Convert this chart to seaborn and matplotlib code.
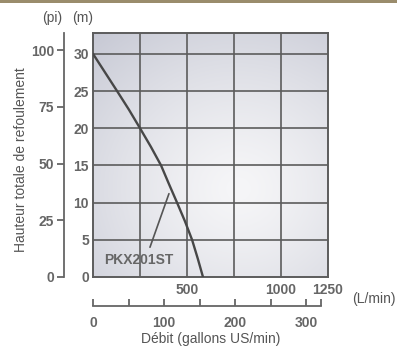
import numpy as np
import pandas as pd
import matplotlib
matplotlib.use("Agg")
import matplotlib.pyplot as plt
import seaborn as sns
from matplotlib.patches import Rectangle
from matplotlib.ticker import FixedLocator

# ---- data ----
flow_lpm = [0, 64, 128, 191, 250, 308, 362, 404, 447, 489, 527, 557, 585]
head_m = [30, 27.5, 25, 22.5, 20, 17.5, 15, 12.5, 10, 7.5, 5, 2.5, 0]
model_name = "PKX201ST"
m_ticks = [0, 5, 10, 15, 20, 25, 30]
ft_ticks = [0, 25, 50, 75, 100]
lpm_grid = [250, 500, 750, 1000]
lpm_labels = {500: "500", 1000: "1000", 1250: "1250"}
gpm_ticks = [0, 50, 100, 150, 200, 250, 300]
gpm_labels = [0, 100, 200, 300]
gpm_end = 320

W, H = 397, 348
sns.set_theme(style="white")
plt.rcParams['font.family'] = ['Liberation Sans Narrow', 'Liberation Sans', 'DejaVu Sans']

fig = plt.figure(figsize=(W / 100, H / 100), dpi=100)
fig.patch.set_facecolor("white")

def px(x0, y0, x1, y1):
    return [x0 / W, 1 - y1 / H, (x1 - x0) / W, (y1 - y0) / H]

TXT = "#666666"
GRID = "#5c5c5c"

XMAX = 1250
YMAX = 32.8
ax = fig.add_axes(px(93, 33, 328, 277))
ax.set_xlim(0, XMAX)
ax.set_ylim(0, YMAX)

# background gradient
gx, gy = np.meshgrid(np.linspace(0, 1, 200), np.linspace(0, 1, 200))
d = np.sqrt(((gx - 0.62) / 1.0) ** 2 + ((gy - 0.36) / 0.9) ** 2)
t = np.clip((d / 0.95) ** 1.3, 0, 1)
light = np.array([0.965, 0.965, 0.972])
dark = np.array([0.776, 0.784, 0.83])
img = light[None, None, :] * (1 - t[..., None]) + dark[None, None, :] * t[..., None]
ax.imshow(img, extent=[0, XMAX, YMAX, 0], aspect="auto", zorder=0, origin="upper")

# grid
for v in lpm_grid:
    ax.axvline(v, color=GRID, lw=1.2, zorder=1)
for v in m_ticks[1:]:
    ax.axhline(v, color=GRID, lw=1.2, zorder=1)
for s in ax.spines.values():
    s.set_visible(True)
    s.set_color(GRID)
    s.set_linewidth(1.4)

df = pd.DataFrame({"flow": flow_lpm, "head": head_m})
sns.lineplot(data=df, x="flow", y="head", ax=ax, color="#474747", lw=1.7, zorder=3)
ax.set_xlabel("")
ax.set_ylabel("")

# x ticks (L/min)
xt = lpm_grid + [XMAX]
ax.set_xticks(xt)
ax.set_xticklabels([lpm_labels.get(v, "") for v in xt], color=TXT, fontsize=10, fontweight="bold")
ax.tick_params(axis="x", length=0, pad=4)
# y ticks (m)
ax.set_yticks(m_ticks)
ax.set_yticklabels([str(v) for v in m_ticks], color=TXT, fontsize=10, fontweight="bold")
ax.tick_params(axis="y", length=0, pad=3)

# model label + pointer
ax.text(245, 2.3, model_name, ha="center", va="center", color=TXT, fontsize=10,
        fontweight="bold", zorder=4)
ax.plot([303, 404], [4.0, 11.2], color="#555555", lw=1.2, zorder=4)

# feet axis
axf = fig.add_axes(px(64, 33, 65, 277))
axf.set_ylim(0, YMAX / 0.3048)
axf.set_xlim(0, 1)
axf.patch.set_alpha(0)
for k, s in axf.spines.items():
    s.set_visible(k == "left")
axf.spines["left"].set_color("#666666")
axf.spines["left"].set_linewidth(1.3)
axf.set_xticks([])
axf.set_yticks(ft_ticks)
axf.set_yticklabels([str(v) for v in ft_ticks], color=TXT, fontsize=10, fontweight="bold")
axf.tick_params(axis="y", direction="out", length=5, width=1.3, color="#666666", pad=2, left=True)

# gallons axis
axg = fig.add_axes(px(93, 300, 328, 306))
axg.set_xlim(0, XMAX / 3.78541)
axg.set_ylim(0, 1)
axg.patch.set_alpha(0)
for k, s in axg.spines.items():
    s.set_visible(k == "bottom")
axg.spines["bottom"].set_bounds(0, gpm_end)
axg.spines["bottom"].set_color("#666666")
axg.spines["bottom"].set_linewidth(1.3)
axg.set_yticks([])
axg.xaxis.set_major_locator(FixedLocator(gpm_ticks + [gpm_end]))
axg.set_xticklabels([str(v) if v in gpm_labels else "" for v in gpm_ticks + [gpm_end]],
                    color=TXT, fontsize=10, fontweight="bold")
axg.tick_params(axis="x", direction="in", length=5, width=1.3, color="#666666", pad=7, bottom=True)

# texts
fig.text(52 / W, 1 - 18 / H, "(pi)", ha="center", va="center", color="#555555", fontsize=10)
fig.text(83 / W, 1 - 18 / H, "(m)", ha="center", va="center", color="#555555", fontsize=10)
fig.text(21 / W, 1 - 160 / H, "Hauteur totale de refoulement", rotation=90,
         ha="center", va="center", color="#555555", fontsize=10)
fig.text(352 / W, 1 - 299 / H, "(L/min)", ha="left", va="center", color="#555555", fontsize=10)
fig.text(211 / W, 1 - 339 / H, "Débit (gallons US/min)", ha="center", va="center",
         color="#555555", fontsize=10)

# top photo border
fig.patches.append(Rectangle((0, 1 - 3 / H), 1, 3 / H, transform=fig.transFigure,
                             facecolor="#9a8c6c", edgecolor="none", zorder=10))

fig.savefig("out.png", dpi=100)
